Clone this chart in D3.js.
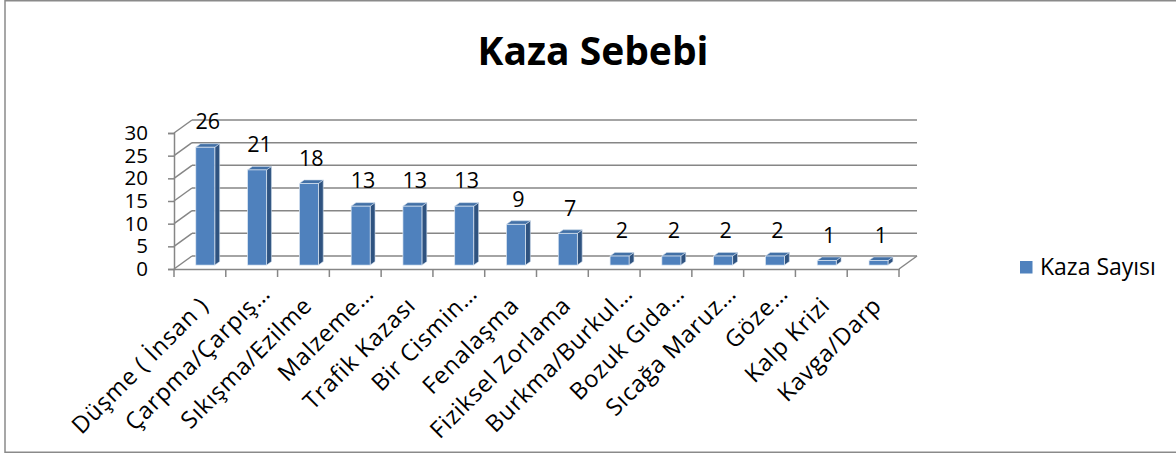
<!DOCTYPE html>
<html>
<head>
<meta charset="utf-8">
<script src="https://cdn.jsdelivr.net/npm/d3@7"></script>
<style>
  body { margin: 0; background: #fff; }
  text { font-family: "Open Sans", sans-serif; fill: #000; }
</style>
</head>
<body>
<div id="chart"></div>
<script>
const categories = [
  "Düşme ( İnsan )", "Çarpma/Çarpış…", "Sıkışma/Ezilme", "Malzeme…",
  "Trafik Kazası", "Bir Cismin…", "Fenalaşma", "Fiziksel Zorlama",
  "Burkma/Burkul…", "Bozuk Gıda…", "Sıcağa Maruz…", "Göze…",
  "Kalp Krizi", "Kavga/Darp"
];
const values = [26, 21, 18, 13, 13, 13, 9, 7, 2, 2, 2, 2, 1, 1];
const yTicks = [0, 5, 10, 15, 20, 25, 30];
const seriesName = "Kaza Sayısı";
const title = "Kaza Sebebi";

const width = 1176;
const height = 454;
const depth = { dx: 18, dy: -13 };   // 3D wall offset
const f0 = 0.3, f1 = 0.57;            // bar position inside depth

const svg = d3.select("#chart").append("svg")
  .attr("width", width)
  .attr("height", height);

svg.append("rect")
  .attr("x", 5).attr("y", 0.75)
  .attr("width", 1180).attr("height", 451.5)
  .attr("fill", "#fff")
  .attr("stroke", "#8a8a8a")
  .attr("stroke-width", 1.5);

svg.append("text")
  .attr("x", 593).attr("y", 65)
  .attr("text-anchor", "middle")
  .style("font-size", "39px")
  .style("font-weight", "bold")
  .text(title);

const x = d3.scaleBand().domain(categories).range([174, 899]);
const y = d3.scaleLinear().domain([0, 30]).range([269, 133]);

const grid = svg.append("g").attr("stroke", "#868686").attr("stroke-width", 1.5).attr("fill", "none");

// back wall gridlines + diagonals on the side wall
yTicks.forEach(t => {
  grid.append("line")
    .attr("x1", 174 + depth.dx).attr("x2", 899 + depth.dx)
    .attr("y1", y(t) + depth.dy).attr("y2", y(t) + depth.dy);
  grid.append("line")
    .attr("x1", 174).attr("x2", 174 + depth.dx)
    .attr("y1", y(t)).attr("y2", y(t) + depth.dy);
});

// floor
grid.append("line")
  .attr("x1", 899).attr("x2", 899 + depth.dx)
  .attr("y1", y(0)).attr("y2", y(0) + depth.dy);

// y axis
const yAxis = svg.append("g")
  .attr("transform", "translate(174,0)")
  .call(d3.axisLeft(y).tickValues(yTicks).tickSize(6).tickPadding(20));
yAxis.selectAll("path, line").attr("stroke", "#868686").attr("stroke-width", 1.5);
yAxis.selectAll("text")
  .style("font-size", "20.5px")
  .style("font-family", "'Open Sans', sans-serif")
  .attr("fill", "#000");

// category axis
const xAxis = svg.append("g")
  .attr("transform", `translate(0,${y(0)})`)
  .call(d3.axisBottom(x).tickSize(0).tickFormat(""));
xAxis.select(".domain").attr("stroke", "#868686").attr("stroke-width", 1.5);

const bounds = categories.map(c => x(c)).concat([x.range()[1]]);
svg.append("g").selectAll("line").data(bounds).join("line")
  .attr("x1", d => d).attr("x2", d => d)
  .attr("y1", y(0)).attr("y2", y(0) + 8)
  .attr("stroke", "#868686").attr("stroke-width", 1.5);

// bars
const bw = x.bandwidth();
const barW = bw * 0.367;
const sx = depth.dx * (f1 - f0), sy = depth.dy * (f1 - f0);

const bars = svg.append("g").selectAll("g").data(categories.map((c, i) => ({ c, v: values[i] })))
  .join("g");

const fx = d => x(d.c) + (bw - barW) / 2 + depth.dx * f0;
const ftop = d => y(d.v) + depth.dy * f0;
const fbot = () => y(0) + depth.dy * f0;

bars.append("path")
  .attr("d", d => {
    const x0 = fx(d) + barW, t = ftop(d), b = fbot();
    return `M${x0},${t}L${x0 + sx},${t + sy}L${x0 + sx},${b + sy}L${x0},${b}Z`;
  })
  .attr("fill", "#2f5380")
  .attr("stroke", "#c9d6e8").attr("stroke-width", 0.6);

bars.append("path")
  .attr("d", d => {
    const x0 = fx(d), t = ftop(d);
    return `M${x0},${t}L${x0 + sx},${t + sy}L${x0 + barW + sx},${t + sy}L${x0 + barW},${t}Z`;
  })
  .attr("fill", "#4270a6")
  .attr("stroke", "#c9d6e8").attr("stroke-width", 0.6);

bars.append("rect")
  .attr("x", fx)
  .attr("y", ftop)
  .attr("width", barW)
  .attr("height", d => fbot() - ftop(d))
  .attr("fill", "#4f81bd")
  .attr("stroke", "#dfe8f3").attr("stroke-width", 0.7);

bars.append("text")
  .attr("x", d => fx(d) + barW / 2 + sx / 2)
  .attr("y", d => ftop(d) + sy / 2 - 16)
  .attr("text-anchor", "middle")
  .style("font-size", "21.5px")
  .text(d => d.v);

// rotated category labels
svg.append("g").selectAll("text").data(categories).join("text")
  .attr("transform", d => {
    const cx = x(d) + bw / 2;
    const trunc = d.endsWith("…");
    return `translate(${cx + (trunc ? 20 : 10)},${trunc ? 295 : 307}) rotate(-45)`;
  })
  .attr("text-anchor", "end")
  .style("font-size", "23.5px")
  .style("letter-spacing", "0.8px")
  .text(d => d);

// legend
svg.append("rect")
  .attr("x", 1020).attr("y", 261)
  .attr("width", 12.5).attr("height", 12.5)
  .attr("fill", "#4f81bd");
svg.append("text")
  .attr("x", 1040).attr("y", 275)
  .style("font-size", "23px")
  .text(seriesName);
</script>
</body>
</html>
